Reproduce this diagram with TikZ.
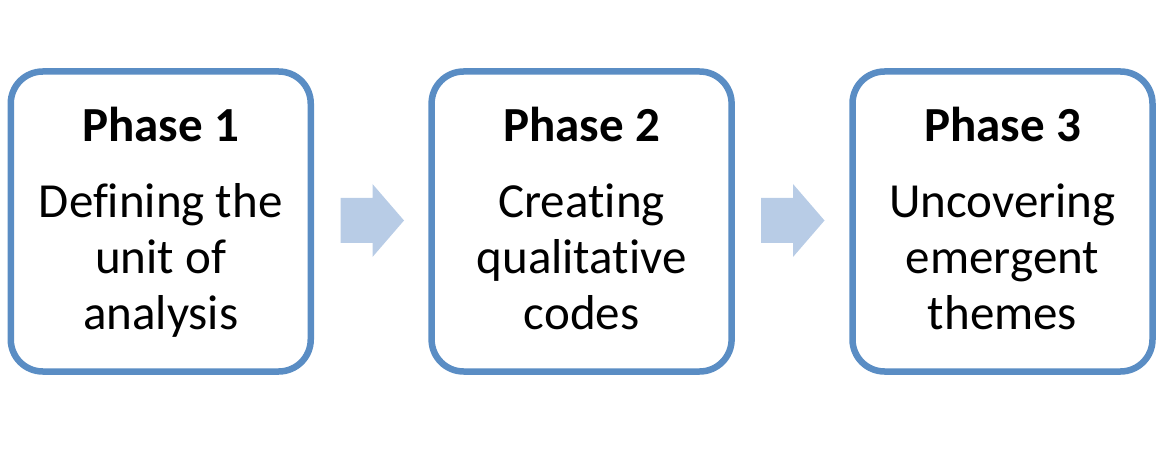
\documentclass[tikz,border=0pt]{standalone}
\usepackage{fontspec}
\setmainfont[Ligatures=NoCommon]{Carlito}
\definecolor{boxblue}{HTML}{5A8DC4}
\definecolor{arrowblue}{HTML}{B8CCE6}
\tikzset{
  phasebox/.style={draw=boxblue, line width=6.5pt, rounded corners=32pt, fill=white,
    minimum width=300pt, minimum height=300pt, inner sep=0pt},
  phasetext/.style={anchor=north, align=center, inner sep=0pt,
    font=\fontsize{49}{56}\selectfont},
  blockarrow/.style={fill=arrowblue, draw=none}
}
\begin{document}
\begin{tikzpicture}[x=1pt, y=-1pt]
\useasboundingbox (0,0) rectangle (1168,449);
\node[phasebox] (b1) at (160.75,221.5) {};
\node[phasebox] (b2) at (581.6,221.5) {};
\node[phasebox] (b3) at (1002.5,221.5) {};
\node[phasetext] (t1) at (160.75,107) {\textbf{Phase 1}\\[20pt]Defining the\\unit of\\analysis};
\node[phasetext] (t2) at (581.6,107) {\textbf{Phase 2}\\[20pt]Creating\\qualitative\\codes};
\node[phasetext] (t3) at (1002.5,107) {\textbf{Phase 3}\\[20pt]Uncovering\\emergent\\themes};
% block arrows between the boxes
\coordinate (a1) at (340.5,220.5);
\coordinate (a2) at (761,220.5);
\fill[blockarrow] (a1) ++(0,-22.5) -- ++(32,0) -- ++(0,-14) -- ++(31.5,36.5) -- ++(-31.5,36.5) -- ++(0,-14) -- ++(-32,0) -- cycle;
\fill[blockarrow] (a2) ++(0,-22.5) -- ++(32,0) -- ++(0,-14) -- ++(31.5,36.5) -- ++(-31.5,36.5) -- ++(0,-14) -- ++(-32,0) -- cycle;
\end{tikzpicture}
\end{document}
